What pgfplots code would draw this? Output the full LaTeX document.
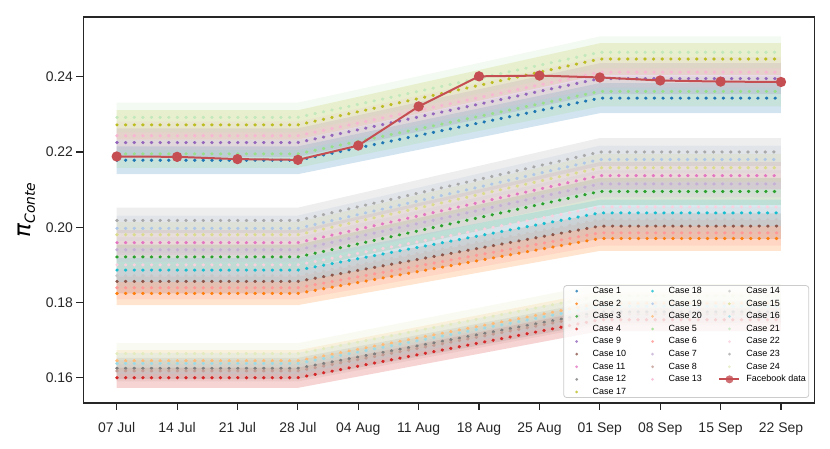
\documentclass[border=0pt]{standalone}
\usepackage{fontspec}
\setmainfont{Liberation Sans}
\newfontfamily\labelfont{DejaVu Sans}
\usepackage{pgfplots}
\pgfplotsset{compat=1.18}
\usepackage{pgfplotstable}
\usepgfplotslibrary{fillbetween}

\definecolor{c1}{HTML}{1F77B4}
\definecolor{c2}{HTML}{FF7F0E}
\definecolor{c3}{HTML}{2CA02C}
\definecolor{c4}{HTML}{D62728}
\definecolor{c9}{HTML}{9467BD}
\definecolor{c10}{HTML}{8C564B}
\definecolor{c11}{HTML}{E377C2}
\definecolor{c12}{HTML}{7F7F7F}
\definecolor{c17}{HTML}{BCBD22}
\definecolor{c18}{HTML}{17BECF}
\definecolor{c19}{HTML}{AEC7E8}
\definecolor{c20}{HTML}{FFBB78}
\definecolor{c5}{HTML}{98DF8A}
\definecolor{c6}{HTML}{FF9896}
\definecolor{c7}{HTML}{C5B0D5}
\definecolor{c8}{HTML}{C49C94}
\definecolor{c13}{HTML}{F7B6D2}
\definecolor{c14}{HTML}{C7C7C7}
\definecolor{c15}{HTML}{DBDB8D}
\definecolor{c16}{HTML}{9EDAE5}
\definecolor{c21}{HTML}{C2E8BC}
\definecolor{c22}{HTML}{FAD0DE}
\definecolor{c23}{HTML}{A9A9A9}
\definecolor{c24}{HTML}{E3EBBE}
\definecolor{fbred}{HTML}{C44E52}
\definecolor{spine}{HTML}{262626}

% top group (cases 1,5,9,13,17,21)
\pgfplotstableread{
x  c1     s1     c5     s5     c9     s9     c13    s13    c17    s17    c21    s21
0  0.2178 0.0037 0.2195 0.0037 0.2225 0.0038 0.2243 0.0038 0.2272 0.0039 0.2292 0.0039
21 0.2178 0.0037 0.2195 0.0037 0.2225 0.0038 0.2243 0.0038 0.2272 0.0039 0.2292 0.0039
56 0.2343 0.0040 0.2361 0.0040 0.2395 0.0041 0.2412 0.0041 0.2447 0.0042 0.2465 0.0042
77 0.2343 0.0040 0.2361 0.0040 0.2395 0.0041 0.2412 0.0041 0.2447 0.0042 0.2465 0.0042
}\topgroup

% middle group (cases 2,3,6,7,10,11,14,15,18,19,22,23)
\pgfplotstableread{
x  c2     s2     c3     s3     c6     s6     c7     s7     c10    s10    c11    s11    c14    s14    c15    s15    c18    s18    c19    s19    c22    s22    c23    s23
0  0.1824 0.0031 0.1921 0.0033 0.1839 0.0031 0.1940 0.0033 0.1856 0.0032 0.1959 0.0033 0.1871 0.0032 0.1980 0.0034 0.1886 0.0032 0.1997 0.0034 0.1900 0.0032 0.2018 0.0034
21 0.1824 0.0031 0.1921 0.0033 0.1839 0.0031 0.1940 0.0033 0.1856 0.0032 0.1959 0.0033 0.1871 0.0032 0.1980 0.0034 0.1886 0.0032 0.1997 0.0034 0.1900 0.0032 0.2018 0.0034
56 0.1970 0.0033 0.2095 0.0036 0.1985 0.0034 0.2115 0.0036 0.2003 0.0034 0.2137 0.0036 0.2020 0.0034 0.2158 0.0037 0.2038 0.0035 0.2180 0.0037 0.2054 0.0035 0.2200 0.0037
77 0.1970 0.0033 0.2095 0.0036 0.1985 0.0034 0.2115 0.0036 0.2003 0.0034 0.2137 0.0036 0.2020 0.0034 0.2158 0.0037 0.2038 0.0035 0.2180 0.0037 0.2054 0.0035 0.2200 0.0037
}\midgroup

% bottom group (cases 4,8,12,16,20,24)
\pgfplotstableread{
x  c4     s4     c8     s8     c12    s12    c16    s16    c20    s20    c24    s24
0  0.1600 0.0027 0.1618 0.0028 0.1625 0.0028 0.1638 0.0028 0.1645 0.0028 0.1664 0.0028
21 0.1600 0.0027 0.1618 0.0028 0.1625 0.0028 0.1638 0.0028 0.1645 0.0028 0.1664 0.0028
56 0.1754 0.0030 0.1769 0.0030 0.1775 0.0030 0.1790 0.0030 0.1798 0.0031 0.1818 0.0031
77 0.1754 0.0030 0.1769 0.0030 0.1775 0.0030 0.1790 0.0030 0.1798 0.0031 0.1818 0.0031
}\botgroup

% Facebook data
\pgfplotstableread{
x  y
0  0.2188
7  0.2187
14 0.2181
21 0.2179
28 0.2217
35 0.2321
42 0.2401
49 0.2403
56 0.2398
63 0.2390
70 0.2387
77 0.2386
}\fbdata

\newcommand\caseband[4]{%
  \addplot[name path=u#2, draw=none, forget plot] table[x=x, y expr=\thisrow{#2}+\thisrow{#3}] {#1};
  \addplot[name path=l#2, draw=none, forget plot] table[x=x, y expr=\thisrow{#2}-\thisrow{#3}] {#1};
  \addplot[fill=#4, fill opacity=0.2, draw=none, forget plot] fill between[of=u#2 and l#2];
}
\newcommand\caseline[3]{%
  \addplot[color=#3, line width=3.1bp, line cap=round, dash pattern=on 0.6bp off 8.03bp, forget plot] table[x=x, y=#2] {#1};
}
\newcommand\legdot[2]{%
  \addlegendimage{legend image code/.code={\path[draw=none,fill=none] (0bp,-3bp) rectangle (20bp,3bp); \fill[#1, draw=none] (10bp,0bp) circle (1.5bp);}}
  \addlegendentry{#2}
}

\begin{document}
\begin{tikzpicture}
\begin{axis}[
  scale only axis, width=730.7bp, height=386bp,
  at={(0,0)}, anchor=south west,
  xmin=-3.85, xmax=80.85, ymin=0.15328, ymax=0.25587,
  axis line style={line width=1.4bp, spine},
  tick align=outside, major tick length=7bp,
  xtick pos=left, ytick pos=left,
  tick style={line width=1.2bp, spine},
  xtick={0,7,14,21,28,35,42,49,56,63,70,77},
  xticklabels={07 Jul,14 Jul,21 Jul,28 Jul,04 Aug,11 Aug,18 Aug,25 Aug,01 Sep,08 Sep,15 Sep,22 Sep},
  ytick={0.16,0.18,0.20,0.22,0.24},
  scaled y ticks=false,
  yticklabel style={/pgf/number format/.cd, fixed, fixed zerofill, precision=2},
  xticklabel style={yshift=-9bp},
  ticklabel style={font=\fontsize{14}{14}\selectfont, text=spine},
  /pgf/number format/assume math mode=true,
  every axis y label/.style={at={(axis description cs:-0.078,0.5)}, anchor=center, rotate=90},
  ylabel={{\labelfont\itshape\fontsize{23}{23}\selectfont π}\raisebox{-4.5bp}{\labelfont\itshape\fontsize{14}{14}\selectfont Conte}},
  legend columns=3,
  legend cell align=left,
  legend style={at={(1,0)}, anchor=south east, xshift=-5bp, yshift=5bp,
    draw=black!20, line width=0.8bp, rounded corners=3bp,
    fill=white, fill opacity=0.8, text opacity=1,
    font=\fontsize{9}{9}\selectfont,
    inner xsep=3bp, inner ysep=1.5bp, row sep=4.3bp,
    nodes={inner sep=0bp, text height=6.5bp, text depth=1.8bp},
    /tikz/every odd column/.append style={column sep=6bp},
    /tikz/every even column/.append style={column sep=16.5bp}},
]
% bands
\caseband{\topgroup}{c1}{s1}{c1}
\caseband{\midgroup}{c2}{s2}{c2}
\caseband{\midgroup}{c3}{s3}{c3}
\caseband{\botgroup}{c4}{s4}{c4}
\caseband{\topgroup}{c9}{s9}{c9}
\caseband{\midgroup}{c10}{s10}{c10}
\caseband{\midgroup}{c11}{s11}{c11}
\caseband{\botgroup}{c12}{s12}{c12}
\caseband{\topgroup}{c17}{s17}{c17}
\caseband{\midgroup}{c18}{s18}{c18}
\caseband{\midgroup}{c19}{s19}{c19}
\caseband{\botgroup}{c20}{s20}{c20}
\caseband{\topgroup}{c5}{s5}{c5}
\caseband{\midgroup}{c6}{s6}{c6}
\caseband{\midgroup}{c7}{s7}{c7}
\caseband{\botgroup}{c8}{s8}{c8}
\caseband{\topgroup}{c13}{s13}{c13}
\caseband{\midgroup}{c14}{s14}{c14}
\caseband{\midgroup}{c15}{s15}{c15}
\caseband{\botgroup}{c16}{s16}{c16}
\caseband{\topgroup}{c21}{s21}{c21}
\caseband{\midgroup}{c22}{s22}{c22}
\caseband{\midgroup}{c23}{s23}{c23}
\caseband{\botgroup}{c24}{s24}{c24}
% dotted lines
\caseline{\topgroup}{c1}{c1}
\caseline{\midgroup}{c2}{c2}
\caseline{\midgroup}{c3}{c3}
\caseline{\botgroup}{c4}{c4}
\caseline{\topgroup}{c9}{c9}
\caseline{\midgroup}{c10}{c10}
\caseline{\midgroup}{c11}{c11}
\caseline{\botgroup}{c12}{c12}
\caseline{\topgroup}{c17}{c17}
\caseline{\midgroup}{c18}{c18}
\caseline{\midgroup}{c19}{c19}
\caseline{\botgroup}{c20}{c20}
\caseline{\topgroup}{c5}{c5}
\caseline{\midgroup}{c6}{c6}
\caseline{\midgroup}{c7}{c7}
\caseline{\botgroup}{c8}{c8}
\caseline{\topgroup}{c13}{c13}
\caseline{\midgroup}{c14}{c14}
\caseline{\midgroup}{c15}{c15}
\caseline{\botgroup}{c16}{c16}
\caseline{\topgroup}{c21}{c21}
\caseline{\midgroup}{c22}{c22}
\caseline{\midgroup}{c23}{c23}
\caseline{\botgroup}{c24}{c24}
% Facebook data
\addplot[fbred, line width=2bp, mark=*, mark size=4.1bp, mark options={fill=fbred, draw=fbred}, forget plot] table[x=x, y=y] {\fbdata};
% legend (row-wise order reproducing column-wise layout)
\legdot{c1}{Case 1}\legdot{c18}{Case 18}\legdot{c14}{Case 14}
\legdot{c2}{Case 2}\legdot{c19}{Case 19}\legdot{c15}{Case 15}
\legdot{c3}{Case 3}\legdot{c20}{Case 20}\legdot{c16}{Case 16}
\legdot{c4}{Case 4}\legdot{c5}{Case 5}\legdot{c21}{Case 21}
\legdot{c9}{Case 9}\legdot{c6}{Case 6}\legdot{c22}{Case 22}
\legdot{c10}{Case 10}\legdot{c7}{Case 7}\legdot{c23}{Case 23}
\legdot{c11}{Case 11}\legdot{c8}{Case 8}\legdot{c24}{Case 24}
\legdot{c12}{Case 12}\legdot{c13}{Case 13}
\addlegendimage{legend image code/.code={\draw[fbred, line width=2bp, rounded corners=0pt] (0bp,0bp) -- (20bp,0bp); \fill[fbred, draw=none] (10bp,0bp) circle (4bp);}}
\addlegendentry{Facebook data}
\legdot{c17}{Case 17}
\end{axis}
\pgfresetboundingbox
\useasboundingbox (-83.5bp,-46bp) rectangle (746.5bp,403bp);
\end{tikzpicture}
\end{document}
